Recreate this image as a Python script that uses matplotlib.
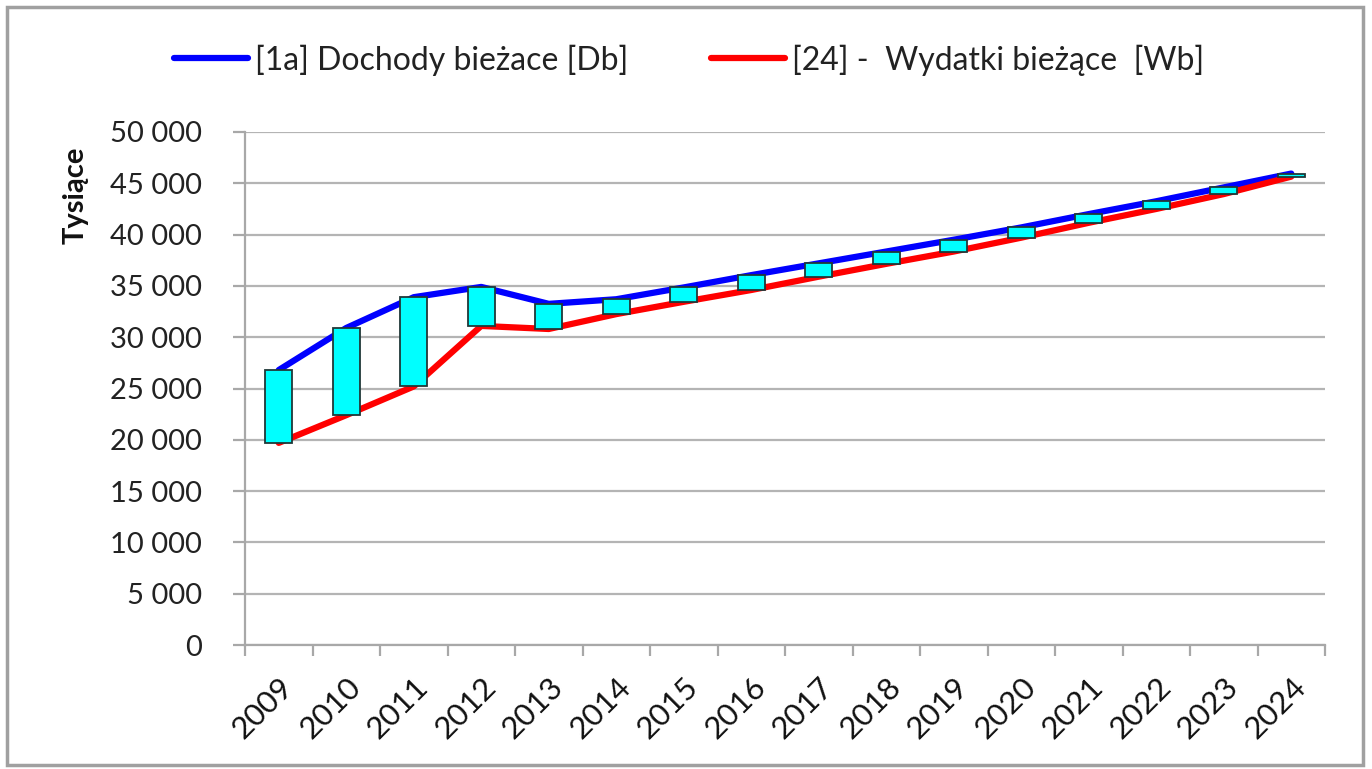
import numpy as np
import matplotlib.pyplot as plt
from matplotlib.patches import Rectangle

years = [str(y) for y in range(2009, 2025)]
dochody = [26800, 30900, 33900, 34900, 33250, 33700, 34850, 36050,
           37200, 38350, 39500, 40700, 42000, 43250, 44600, 45950]
wydatki = [19700, 22400, 25200, 31100, 30800, 32250, 33450, 34600,
           35900, 37150, 38350, 39700, 41150, 42500, 43950, 45650]
yticks = list(range(0, 50001, 5000))

plt.rcParams['font.family'] = ['Lato', 'DejaVu Sans']

fig = plt.figure(figsize=(13.72, 7.69), dpi=100)
ax = fig.add_axes([245 / 1372, 1 - 645 / 769, 1080 / 1372, 513 / 769])

x = np.arange(len(years))
db = np.array(dochody)
wb = np.array(wydatki)

l1, = ax.plot(x, db, color='#0000ff', lw=4.5, solid_capstyle='round', zorder=3,
              label='[1a] Dochody bieżace [Db]')
l2, = ax.plot(x, wb, color='#ff0000', lw=4.5, solid_capstyle='round', zorder=3,
              label='[24] -  Wydatki bieżące  [Wb]')
# up/down bars between the two series
ax.bar(x, db - wb, bottom=wb, width=0.4, color='#00ffff', edgecolor='#203838',
       linewidth=1.3, zorder=4)

ax.set_xlim(-0.5, len(years) - 0.5)
ax.set_ylim(0, 50000)
ax.set_yticks(yticks)
ax.set_yticklabels([f"{v:,}".replace(",", " ") for v in yticks])
ax.yaxis.grid(True, color='#b4b4b4', lw=1.6)
ax.set_axisbelow(True)

ax.set_xticks(x)
ax.set_xticklabels(years, rotation=45, ha='right', va='top', rotation_mode='anchor')
ax.set_xticks(np.arange(len(years) + 1) - 0.5, minor=True)
ax.tick_params(axis='x', which='major', length=0, pad=20, labelsize=22.5, colors='#111111')
ax.tick_params(axis='x', which='minor', length=8, width=1.6, color='#a8a8a8')
ax.tick_params(axis='y', length=9, width=1.6, color='#a8a8a8', pad=22,
               labelsize=21, labelcolor='#222222')

for s in ['top', 'right']:
    ax.spines[s].set_visible(False)
for s in ['left', 'bottom']:
    ax.spines[s].set_color('#a8a8a8')
    ax.spines[s].set_linewidth(1.6)

fig.text(76 / 1372, 1 - 195 / 769, 'Tysiące', rotation=90, ha='center', va='center',
         fontsize=21, fontweight='bold', color='#111111')

fig.legend(handles=[l1, l2], loc='center', bbox_to_anchor=(689 / 1372, 1 - 60 / 769),
           ncol=2, frameon=False, fontsize=23, handlelength=2.3, handletextpad=0.22,
           columnspacing=2.6, labelcolor='#222222')

fig.add_artist(Rectangle((7 / 1372, 4 / 769), 1356 / 1372, 758 / 769,
                         transform=fig.transFigure, fill=False,
                         edgecolor='#a0a0a0', lw=2.5))

fig.savefig('out.png', dpi=100)
